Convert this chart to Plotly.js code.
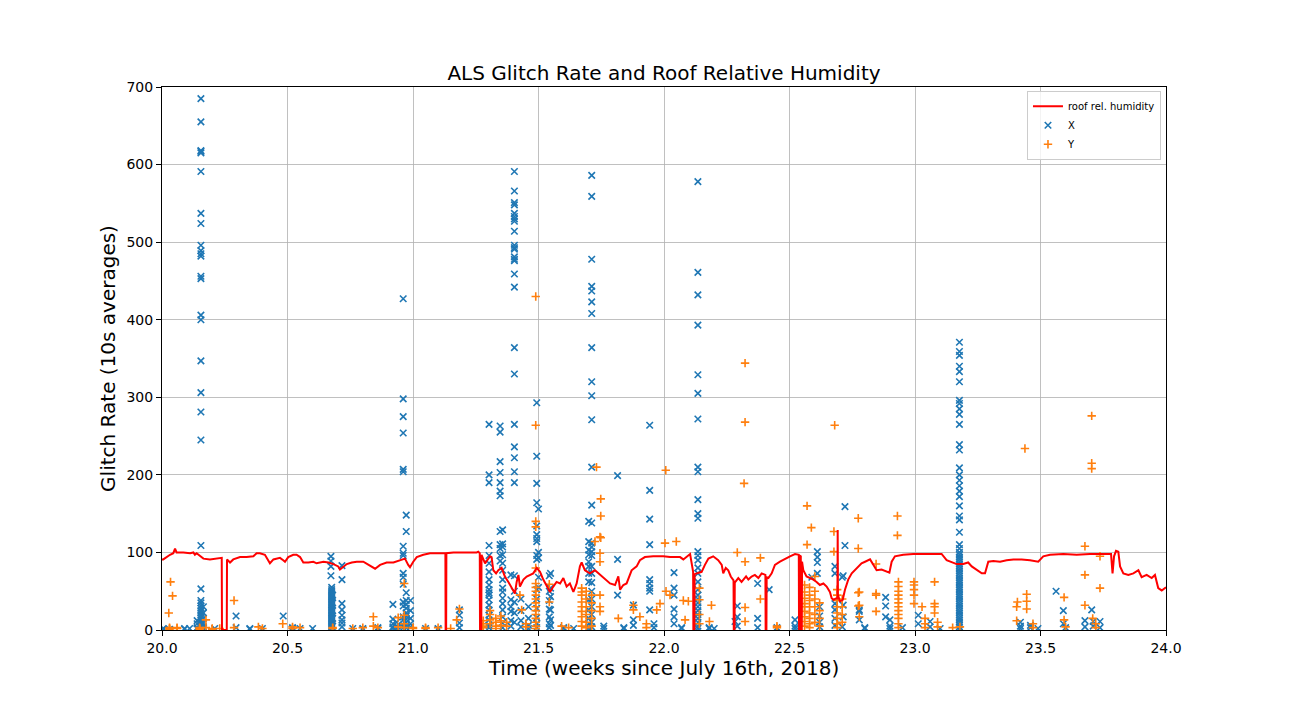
<!DOCTYPE html>
<html>
<head>
<meta charset="utf-8">
<script src="https://cdn.plot.ly/plotly-3.0.1.min.js"></script>
<style>
  html, body { margin: 0; padding: 0; background: #fff; }
  #chart { width: 1296px; height: 720px; }
</style>
</head>
<body>
<div id="chart"></div>
<script>
/* ── ALS glitch rate vs roof humidity ── */

const BLUE = "#1f77b4";
const ORANGE = "#ff7f0e";
const RED = "#ff0000";

// roof relative humidity (%)
const HUM_WEEK = [
  20.000, 20.005, 20.032, 20.045, 20.052, 20.058, 20.085, 20.112, 20.125, 20.131,
  20.138, 20.151, 20.165, 20.191, 20.218, 20.238, 20.239, 20.258, 20.259, 20.271,
  20.284, 20.311, 20.337, 20.364, 20.377, 20.390, 20.410, 20.424, 20.430, 20.444,
  20.470, 20.483, 20.490, 20.503, 20.523, 20.536, 20.550, 20.563, 20.583, 20.603,
  20.616, 20.643, 20.663, 20.683, 20.702, 20.709, 20.722, 20.736, 20.756, 20.776,
  20.802, 20.822, 20.849, 20.869, 20.895, 20.922, 20.948, 20.968, 20.981, 20.988,
  21.001, 21.015, 21.041, 21.068, 21.094, 21.129, 21.130, 21.132, 21.133, 21.161,
  21.200, 21.254, 21.260, 21.266, 21.267, 21.272, 21.273, 21.287, 21.296, 21.307,
  21.313, 21.320, 21.331, 21.340, 21.353, 21.366, 21.380, 21.393, 21.406, 21.413,
  21.420, 21.426, 21.440, 21.453, 21.466, 21.479, 21.493, 21.506, 21.519, 21.532,
  21.546, 21.559, 21.572, 21.586, 21.599, 21.612, 21.625, 21.639, 21.652, 21.665,
  21.672, 21.685, 21.705, 21.725, 21.745, 21.765, 21.785, 21.805, 21.818, 21.825,
  21.838, 21.851, 21.871, 21.891, 21.904, 21.924, 21.957, 21.997, 22.024, 22.064,
  22.077, 22.104, 22.110, 22.116, 22.117, 22.121, 22.122, 22.137, 22.150, 22.163,
  22.177, 22.196, 22.216, 22.230, 22.236, 22.246, 22.256, 22.266, 22.277, 22.278,
  22.281, 22.282, 22.296, 22.309, 22.327, 22.336, 22.349, 22.362, 22.376, 22.389,
  22.404, 22.405, 22.408, 22.409, 22.416, 22.429, 22.442, 22.462, 22.482, 22.502,
  22.522, 22.537, 22.538, 22.541, 22.542, 22.545, 22.546, 22.549, 22.550, 22.555,
  22.568, 22.582, 22.595, 22.608, 22.621, 22.635, 22.648, 22.661, 22.668, 22.675,
  22.688, 22.691, 22.692, 22.693, 22.701, 22.712, 22.721, 22.734, 22.748, 22.767,
  22.787, 22.801, 22.821, 22.834, 22.847, 22.867, 22.887, 22.898, 22.907, 22.920,
  22.953, 22.993, 23.046, 23.106, 23.126, 23.146, 23.166, 23.192, 23.212, 23.226,
  23.246, 23.266, 23.279, 23.292, 23.312, 23.339, 23.365, 23.392, 23.425, 23.458,
  23.491, 23.511, 23.538, 23.591, 23.644, 23.697, 23.750, 23.781, 23.787, 23.793,
  23.801, 23.810, 23.817, 23.830, 23.850, 23.870, 23.890, 23.903, 23.923, 23.943,
  23.956, 23.969, 23.983, 23.996, 24.000
];
const HUM_RH = [
  91, 91, 97, 99, 105, 100, 100, 99, 100, 97,
  99, 95, 92, 91, 92, 93, 0, 0, 91, 87,
  91, 94, 94, 95, 99, 99, 97, 90, 86, 91,
  93, 90, 88, 94, 97, 97, 94, 87, 87, 88,
  86, 88, 87, 85, 82, 78, 82, 85, 87, 88,
  88, 84, 79, 84, 87, 87, 90, 92, 84, 81,
  88, 94, 97, 99, 99, 99, 0, 0, 99, 100,
  100, 100, 101, 99, 0, 0, 97, 86, 90, 95,
  94, 77, 73, 77, 80, 69, 62, 54, 47, 62,
  71, 56, 65, 69, 71, 73, 80, 75, 65, 58,
  49, 56, 62, 60, 67, 56, 60, 49, 60, 82,
  87, 77, 73, 77, 71, 65, 60, 58, 69, 52,
  58, 60, 77, 82, 90, 94, 95, 95, 94, 94,
  91, 98, 86, 75, 0, 0, 72, 74, 75, 84,
  92, 95, 90, 84, 73, 80, 77, 69, 64, 0,
  0, 61, 67, 62, 69, 65, 69, 71, 67, 73,
  71, 0, 0, 68, 67, 73, 84, 88, 92, 95,
  98, 97, 0, 0, 96, 95, 0, 0, 88, 77,
  69, 67, 65, 62, 58, 60, 56, 49, 41, 39,
  41, 40, 129, 45, 37, 39, 52, 65, 73, 80,
  86, 88, 91, 84, 77, 78, 75, 74, 88, 95,
  97, 98, 98, 98, 90, 88, 85, 85, 87, 82,
  77, 73, 73, 88, 89, 88, 90, 91, 91, 90,
  88, 95, 97, 98, 97, 98, 98, 98, 73, 95,
  102, 101, 82, 73, 71, 73, 77, 68, 71, 67,
  71, 54, 51, 54, 55
];

// glitch rate columns: [week, [rates...]]
const X_GLITCHES = [
  [20.005, [2, 1]], [20.030, [1]], [20.090, [2, 1]], [20.110, [2]],
  [20.140, [3, 2, 8, 12]],
  [20.155, [685, 655, 618, 617, 615, 591, 537, 524, 496, 489, 485, 482, 456, 453, 406, 400,
            347, 306, 281, 245, 109, 53, 38, 35, 31, 28, 25, 22, 19, 16, 13, 10, 8, 5, 3, 1]],
  [20.165, [30, 22, 15, 9, 4, 2]],
  [20.210, [2]], [20.295, [18, 3]], [20.350, [2, 1]], [20.400, [2]], [20.483, [18]],
  [20.520, [3, 2]], [20.550, [2]], [20.600, [2]],
  [20.673, [95, 89, 82, 70]],
  [20.676, [55, 52, 50, 48, 46, 44, 42, 40, 38, 36, 34, 32, 30, 28, 26, 24, 22, 20, 18,
            16, 14, 12, 10, 8, 6, 4, 2]],
  [20.680, [45, 35, 25, 15, 5]],
  [20.717, [83, 65, 34, 26, 19, 13, 9, 4]],
  [20.760, [2]], [20.800, [2, 1]], [20.860, [3, 2]],
  [20.920, [33, 14, 8, 4, 2]], [20.935, [10, 5, 2]],
  [20.961, [427, 298, 275, 254, 207, 204, 108, 99, 96, 73, 68, 59, 36, 31, 17, 13, 6, 3]],
  [20.973, [148, 127, 48, 38, 33, 28, 22, 18, 14, 10, 6, 3]],
  [20.990, [38, 25, 15, 8, 4]],
  [21.050, [2]], [21.100, [2, 1]], [21.185, [26, 19, 9, 3]],
  [21.303, [265, 200, 190, 109, 96, 86, 75, 65, 58, 52, 48, 45, 39, 32, 26, 19, 13, 6, 3]],
  [21.347, [263, 255, 217, 203, 190, 179, 173, 127, 110, 105, 96, 89]],
  [21.357, [129, 111, 107, 97, 86, 77, 65, 54, 49, 41, 34, 26, 17, 9, 3]],
  [21.390, [71, 39, 30, 24, 12, 5]],
  [21.404, [591, 566, 551, 548, 537, 533, 530, 527, 514, 496, 493, 491, 481, 478, 476, 459,
            442, 364, 330, 265, 236, 222, 204, 190, 70, 50, 36, 22, 10]],
  [21.430, [40, 25, 12, 4]], [21.460, [30, 15, 6, 2]],
  [21.493, [293, 224, 189, 164, 134, 123, 118, 114, 96, 91, 52, 40, 28, 16, 8, 3]],
  [21.500, [156, 100, 93, 68, 55]],
  [21.543, [70, 50, 38, 27, 17, 8, 3]],
  [21.548, [73, 54, 43, 26, 13, 6]],
  [21.600, [3, 2]], [21.640, [2]],
  [21.700, [140, 114, 103, 97, 88, 82, 73, 62, 39, 26, 15, 8, 3]],
  [21.712, [586, 559, 478, 443, 437, 423, 408, 364, 320, 302, 271, 210, 161, 138, 112, 107,
            101, 96, 82, 73, 61, 50, 40, 30, 20, 10, 4]],
  [21.760, [5, 2]], [21.815, [199, 91, 45]], [21.840, [3, 2]], [21.878, [32, 13, 6]],
  [21.943, [264, 180, 143, 110, 65, 60, 54, 50, 26]], [21.960, [8, 3]],
  [22.040, [74, 54, 45, 27, 17, 8]], [22.070, [3, 2]],
  [22.135, [578, 461, 432, 393, 329, 305, 272, 210, 204, 168, 150, 144, 101, 96, 90, 80, 73,
            62, 52, 45, 40, 35, 30, 25, 20, 15, 10, 5, 2]],
  [22.180, [3, 2]], [22.200, [2]], [22.283, [11]], [22.292, [31, 17, 5]],
  [22.373, [60, 15, 3]], [22.419, [52]], [22.450, [3, 2]], [22.522, [13, 5, 2]],
  [22.589, [68]], [22.611, [101, 94, 87, 73]], [22.620, [30, 18, 10, 4]],
  [22.681, [82, 73, 34, 26, 15, 6]], [22.710, [68, 4]], [22.714, [70, 32, 17]],
  [22.721, [159, 109]], [22.778, [26, 24, 13]], [22.800, [3, 2]],
  [22.883, [42, 31, 17]], [22.900, [13, 5, 2]], [22.950, [3]],
  [23.013, [19, 8]], [23.060, [11, 4]], [23.100, [2]],
  [23.177, [371, 359, 354, 340, 333, 320, 296, 292, 285, 278, 265, 239, 232, 209, 200, 193,
            186, 179, 172, 160, 147, 142, 126, 110, 105, 100, 97, 94, 91, 88, 85, 82, 79, 76,
            73, 70, 67, 64, 61, 58, 55, 52, 49, 46, 43, 40, 37, 34, 31, 28, 25, 22, 19, 16,
            13, 10, 7, 4, 1]],
  [23.420, [10, 5, 2]], [23.460, [6, 3]], [23.490, [2]],
  [23.562, [50]], [23.591, [25, 8]], [23.600, [3]],
  [23.677, [12, 4]], [23.704, [26]], [23.710, [11, 5]], [23.737, [11, 3]]
];

const Y_GLITCHES = [
  [20.027, [22]], [20.034, [62]], [20.042, [44]], [20.030, [3, 2, 1]], [20.060, [3, 2]],
  [20.150, [3, 2, 1]], [20.175, [13, 3]], [20.200, [2, 1]], [20.230, [2]],
  [20.287, [38, 3]], [20.384, [4]], [20.400, [2]], [20.481, [8]],
  [20.520, [4, 2]], [20.550, [3]], [20.680, [3, 2]], [20.760, [2]], [20.800, [3]],
  [20.842, [17, 5]], [20.860, [3]], [20.941, [16, 4]], [20.965, [60, 19, 8, 3]],
  [21.000, [3, 2]], [21.050, [3, 2]], [21.100, [3]], [21.150, [2]],
  [21.174, [13]], [21.185, [27]],
  [21.280, [12, 8, 5, 3]], [21.307, [25, 20, 13, 8]], [21.330, [15, 10, 5, 2]],
  [21.350, [18, 12, 6]], [21.373, [10, 5]],
  [21.426, [45]], [21.433, [26]], [21.450, [8, 4]],
  [21.489, [430, 264, 140, 133, 80, 60, 55, 50, 45, 40, 35, 30, 25, 20, 15, 10, 5, 2]],
  [21.543, [59, 36]], [21.592, [5]], [21.620, [3]],
  [21.672, [54, 49, 45, 36, 30, 24, 17, 11, 5]],
  [21.690, [50, 40, 30, 20, 10, 3]],
  [21.712, [45, 35, 25, 15, 5]],
  [21.725, [114]], [21.731, [210]],
  [21.745, [120, 99, 88, 45, 30, 24]],
  [21.748, [169, 147, 119]],
  [21.818, [15]], [21.878, [32, 26]], [21.904, [17]], [21.930, [8, 3]],
  [21.971, [26]], [21.984, [34]],
  [22.004, [112]], [22.007, [206]], [22.008, [50]], [22.024, [45]], [22.049, [114]],
  [22.077, [38]], [22.084, [13]], [22.097, [37]],
  [22.141, [54, 39, 20, 8]], [22.181, [11]], [22.189, [32]],
  [22.292, [100]], [22.319, [189]], [22.323, [344, 268, 88, 29, 11]],
  [22.384, [93, 40]], [22.450, [5, 3]],
  [22.560, [58, 49, 41, 34, 30, 24, 17, 11, 5]],
  [22.570, [160, 110]], [22.580, [55, 45, 38, 30, 22, 15, 8, 3]], [22.587, [132]],
  [22.601, [69, 50, 40, 30, 20, 10]], [22.620, [35, 25, 15, 5]],
  [22.677, [127, 101]], [22.680, [264]],
  [22.690, [52, 45, 38, 30, 22, 15, 8, 3]], [22.710, [40, 30, 20, 10]],
  [22.774, [144, 105, 48, 31]], [22.778, [49, 32, 17]],
  [22.845, [85, 47, 45, 24]],
  [22.930, [147, 122]],
  [22.934, [62, 56, 50, 45, 40, 35, 30, 25, 20, 15, 8, 3]],
  [22.996, [62, 58, 52, 45, 34]], [23.028, [30]], [23.040, [15, 8, 3]],
  [23.078, [62, 34, 30, 22]], [23.090, [10, 4]], [23.150, [3]], [23.179, [4]],
  [23.405, [30, 12]], [23.408, [36]], [23.438, [234]], [23.445, [46, 37, 27]],
  [23.470, [8, 3]], [23.594, [42, 13]], [23.600, [4]],
  [23.677, [108, 71, 32]], [23.704, [276, 215, 208]], [23.708, [15]],
  [23.720, [8, 3]], [23.737, [95, 54]]
];

const X_TICKS = [20.0, 20.5, 21.0, 21.5, 22.0, 22.5, 23.0, 23.5, 24.0];
const Y_TICKS = [0, 100, 200, 300, 400, 500, 600, 700];

function unpack(cols) {
  const xs = [], ys = [];
  cols.forEach(([w, rates]) => rates.forEach(r => { xs.push(w); ys.push(r); }));
  return { xs, ys };
}

const xPts = unpack(X_GLITCHES);
const yPts = unpack(Y_GLITCHES);

const traces = [
  {
    type: "scatter", mode: "markers", name: "X",
    x: xPts.xs, y: xPts.ys,
    marker: { symbol: "x-thin", size: 6.5, color: BLUE, line: { color: BLUE, width: 1.6 } },
    legendrank: 2,
  },
  {
    type: "scatter", mode: "markers", name: "Y",
    x: yPts.xs, y: yPts.ys,
    marker: { symbol: "cross-thin", size: 6, color: ORANGE, line: { color: ORANGE, width: 1.6 } },
    legendrank: 3,
  },
  {
    type: "scatter", mode: "lines", name: "roof rel. humidity",
    x: HUM_WEEK, y: HUM_RH,
    line: { color: RED, width: 2 },
    legendrank: 1,
  },
];

const axisCommon = {
  showline: true, linecolor: "#000", linewidth: 1, mirror: true,
  ticks: "outside", ticklen: 5, tickwidth: 1, tickcolor: "#000",
  showgrid: true, gridcolor: "#b0b0b0", gridwidth: 0.8,
  zeroline: false,
  tickfont: { size: 14, color: "#000" },
};

const layout = {
  width: 1296, height: 720,
  paper_bgcolor: "#fff", plot_bgcolor: "#fff",
  font: { family: "DejaVu Sans, sans-serif", color: "#000" },
  margin: { l: 162, r: 130, t: 87, b: 90 },
  title: {
    text: "ALS Glitch Rate and Roof Relative Humidity",
    font: { size: 20 },
    x: 0.5, xref: "paper", y: 1 - 73 / 720, yref: "container", yanchor: "middle",
  },
  xaxis: {
    ...axisCommon,
    range: [20, 24], tickvals: X_TICKS, tickformat: ".1f",
    title: { text: "Time (weeks since July 16th, 2018)", font: { size: 20 }, standoff: 3 },
  },
  yaxis: {
    ...axisCommon,
    range: [0, 700], tickvals: Y_TICKS,
    title: { text: "Glitch Rate (10s averages)", font: { size: 20 }, standoff: 5 },
  },
  legend: {
    x: 0.995, xanchor: "right", y: 0.993, yanchor: "top",
    bgcolor: "rgba(255,255,255,0.8)", bordercolor: "#cccccc", borderwidth: 1,
    font: { size: 10 },
    tracegroupgap: 0,
  },
  showlegend: true,
};

Plotly.newPlot("chart", traces, layout, { displayModeBar: false, staticPlot: true });
</script>
</body>
</html>
